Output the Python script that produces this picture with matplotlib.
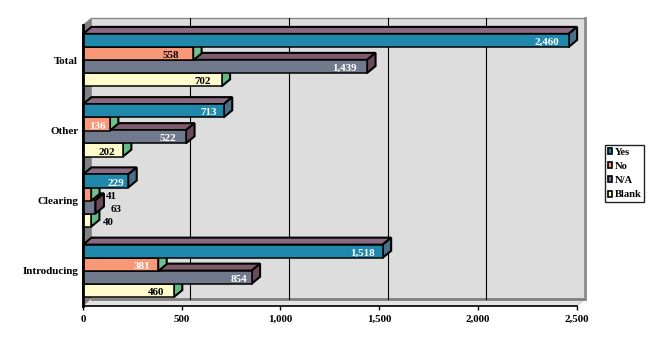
import matplotlib
matplotlib.use("Agg")
import matplotlib.pyplot as plt
from matplotlib.patches import Patch, Polygon

plt.rcParams['font.family'] = ['Liberation Serif', 'DejaVu Serif']
plt.rcParams['font.weight'] = 'bold'

categories = ['Introducing', 'Clearing', 'Other', 'Total']
series_names = ['Yes', 'No', 'N/A', 'Blank']
yes_values = [1518, 229, 713, 2460]
no_values = [381, 41, 136, 558]
na_values = [854, 63, 522, 1439]
blank_values = [460, 40, 202, 702]
x_ticks = [0, 500, 1000, 1500, 2000, 2500]

# label offset from the end of each bar, in pixels
yes_shift = [-8, -4, -7, -9]
no_shift = [-8, 26, -4, -14]
na_shift = [-4, 26, -10, -10]
blank_shift = [-10, 23, -8, -11]
# label colours
yes_text = ['white', 'white', 'white', 'white']
no_text = ['white', 'black', 'white', 'black']
na_text = ['white', 'black', 'white', 'white']
blank_text = ['black', 'black', 'black', 'black']

W, H = 666, 358
LEFT, RIGHT, TOP, BOTTOM = 83, 576.5, 25, 306
DX = 2500 * 8.5 / (RIGHT - LEFT)   # depth of the 3d box in data units
DY = 4 * 7 / (BOTTOM - TOP)
FONT = 7.9

fig = plt.figure(figsize=(W / 100, H / 100), dpi=100)
ax = fig.add_axes([LEFT / W, 1 - BOTTOM / H, (RIGHT - LEFT) / W, (BOTTOM - TOP) / H])
ax.set_xlim(0, 2500)
ax.set_ylim(-0.5, 3.5)
for s in ax.spines.values():
    s.set_visible(False)
ax.patch.set_visible(False)


def poly(points, face, edge='black', lw=1.5, z=2):
    p = Polygon(points, closed=True, facecolor=face, edgecolor=edge, linewidth=lw,
                joinstyle='miter', clip_on=False, zorder=z)
    ax.add_patch(p)


# back wall, left wall and floor
y0, y1 = -0.5, 3.5
poly([(DX, y0 + DY), (2500 + DX, y0 + DY), (2500 + DX, y1 + DY), (DX, y1 + DY)], '#dddddd', edge='none', lw=0, z=0)
poly([(0, y0), (DX, y0 + DY), (DX, y1 + DY), (0, y1)], '#808080', edge='#808080', lw=0.5, z=0.5)
poly([(0, y0), (2500, y0), (2500 + DX, y0 + DY), (DX, y0 + DY)], '#e4e4e4', edge='#b0b0b0', lw=0.5, z=0.5)
ax.plot([DX, 2500 + DX], [y0 + DY, y0 + DY], color='#808080', lw=2, clip_on=False, zorder=0.7)
ax.plot([2500 + DX, 2500 + DX], [y0 + DY, y1 + DY], color='#8a8a8a', lw=2, clip_on=False, zorder=0.7)
ax.plot([DX, 2500 + DX], [y1 + DY, y1 + DY], color='#8a8a8a', lw=1, clip_on=False, zorder=0.7)
for t in x_ticks[1:-1]:
    ax.plot([t + DX, t + DX], [y0 + DY, y1 + DY], color='black', lw=0.8, clip_on=False, zorder=1)
ax.plot([0, 0], [y0, y1], color='black', lw=2, clip_on=False, zorder=30)
ax.plot([0, 2500], [y0, y0], color='black', lw=1.2, clip_on=False, zorder=30)

# front, top, side colours
yes_colors = ('#2088aa', '#8a6a80', '#4a7088')
no_colors = ('#f89878', '#7a5a6c', '#70c090')
na_colors = ('#707a8c', '#7d5a6c', '#6a4a5a')
blank_colors = ('#fffbcc', '#7a5a6c', '#60bb88')

rows = [
    (yes_values, yes_colors, 0.28, yes_shift, yes_text),
    (no_values, no_colors, 0.09, no_shift, no_text),
    (na_values, na_colors, -0.09, na_shift, na_text),
    (blank_values, blank_colors, -0.28, blank_shift, blank_text),
]
BAR_H = 0.187

# painted from the bottom up so upper bars cover the tops of lower ones
z = 3
for i in range(len(categories)):
    for values, colors, off, shift, text in reversed(rows):
        v = values[i]
        lo = i + off - BAR_H / 2
        hi = i + off + BAR_H / 2
        poly([(0, hi), (v, hi), (v + DX, hi + DY), (DX, hi + DY)], colors[1], z=z)
        poly([(v, lo), (v + DX, lo + DY), (v + DX, hi + DY), (v, hi)], colors[2], z=z)
        poly([(0, lo), (v, lo), (v, hi), (0, hi)], colors[0], lw=1.1, z=z)
        z += 1

for i in range(len(categories)):
    for values, colors, off, shift, text in rows:
        ax.annotate(f'{values[i]:,}', xy=(values[i], i + off), xytext=(shift[i] * 0.72, -1.5),
                    textcoords='offset points', ha='right', va='center', fontsize=FONT,
                    color=text[i], zorder=40, annotation_clip=False)

ax.set_xticks(x_ticks)
ax.set_xticklabels([f'{t:,}' for t in x_ticks], fontsize=FONT)
ax.set_yticks(range(len(categories)))
ax.set_yticklabels(categories, fontsize=FONT)
ax.tick_params(axis='y', length=0, pad=3.5)
ax.tick_params(axis='x', length=3, width=1, pad=3.3)

handles = [Patch(facecolor=c[0], edgecolor='black', linewidth=1.2) for c in
           (yes_colors, no_colors, na_colors, blank_colors)]
leg = fig.legend(handles, series_names, loc='upper left',
                 bbox_to_anchor=(605 / W, 1 - 145 / H), fontsize=7.6,
                 frameon=True, fancybox=False, edgecolor='#222222', framealpha=1,
                 handlelength=0.45, handleheight=0.5, handletextpad=0.22,
                 labelspacing=0.5, borderpad=0.25, borderaxespad=0)
leg.get_frame().set_linewidth(1)

fig.savefig('out.png', dpi=100)
